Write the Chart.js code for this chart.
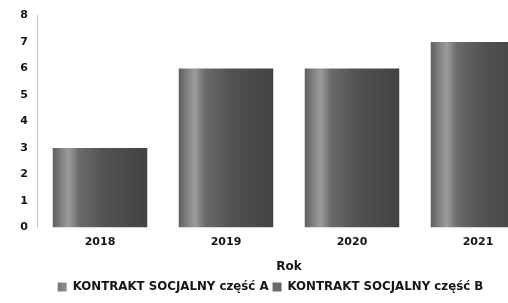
<!DOCTYPE html>
<html>
<head>
<meta charset="utf-8">
<script src="https://cdn.jsdelivr.net/npm/chart.js@4"></script>
<style>
html,body{margin:0;padding:0;background:#fff;overflow:hidden;}
#wrap{width:548px;height:303px;position:relative;}
</style>
</head>
<body>
<div id="wrap"><canvas id="c"></canvas></div>
<script>
const categories = ['2018', '2019', '2020', '2021'];
const seriesA = [3, 6, 6, 7];
const seriesB = [0, 0, 0, 0];
const yTicks = [0, 1, 2, 3, 4, 5, 6, 7, 8];
const xTitle = 'Rok';
const labelA = 'KONTRAKT SOCJALNY część A';
const labelB = 'KONTRAKT SOCJALNY część B';

const BAR_PCT = 0.75;

function barFill(ctx) {
  const chart = ctx.chart;
  const xs = chart.scales && chart.scales.x;
  if (!chart.chartArea || !xs || ctx.dataIndex === undefined) return '#4a4a4a';
  const cx = xs.getPixelForValue(ctx.dataIndex);
  const step = xs.getPixelForValue(1) - xs.getPixelForValue(0);
  const w = step * BAR_PCT;
  const x0 = cx - w / 2, x1 = cx + w / 2;
  const g = chart.ctx.createLinearGradient(x0, 0, x1, 0);
  g.addColorStop(0, '#5e5e5e');
  g.addColorStop(0.08, '#7e7e7e');
  g.addColorStop(0.17, '#9c9c9c');
  g.addColorStop(0.28, '#6a6a6a');
  g.addColorStop(0.55, '#525252');
  g.addColorStop(1, '#424242');
  return g;
}

new Chart(document.getElementById('c'), {
  type: 'bar',
  data: {
    labels: categories,
    datasets: [
      { label: labelA, data: seriesA, backgroundColor: barFill, borderWidth: 0 },
      { label: labelB, data: seriesB, backgroundColor: '#6a6a6a', borderWidth: 0 }
    ]
  },
  options: {
    responsive: true,
    maintainAspectRatio: false,
    animation: false,
    layout: { padding: { left: 0, top: 3, right: 7, bottom: 0 } },
    datasets: { bar: { barPercentage: BAR_PCT, categoryPercentage: 1 } },
    scales: {
      x: {
        stacked: true,
        grid: { display: false, drawTicks: false },
        border: { display: false },
        ticks: { color: '#151515', font: { family: 'DejaVu Sans', weight: 'bold', size: 11 }, padding: 8 },
        title: { display: true, text: xTitle, color: '#151515', font: { family: 'DejaVu Sans', weight: 'bold', size: 12 }, padding: { top: 3, bottom: 3 } }
      },
      y: {
        stacked: true,
        min: 0, max: 8,
        afterBuildTicks: (s) => { s.ticks = yTicks.map(v => ({ value: v })); },
        afterFit: (s) => { s.width = 37; },
        grid: { display: false, drawTicks: false },
        border: { display: true, color: '#c4c4c4', dash: [2, 3], width: 1 },
        ticks: { color: '#151515', font: { family: 'DejaVu Sans', weight: 'bold', size: 11 }, padding: 9 }
      }
    },
    plugins: {
      legend: {
        position: 'bottom',
        labels: {
          boxWidth: 9, boxHeight: 9, padding: 4, color: '#151515',
          font: { family: 'DejaVu Sans', weight: 'bold', size: 11.8 }
        }
      },
      tooltip: { enabled: false }
    }
  }
});
</script>
</body>
</html>
